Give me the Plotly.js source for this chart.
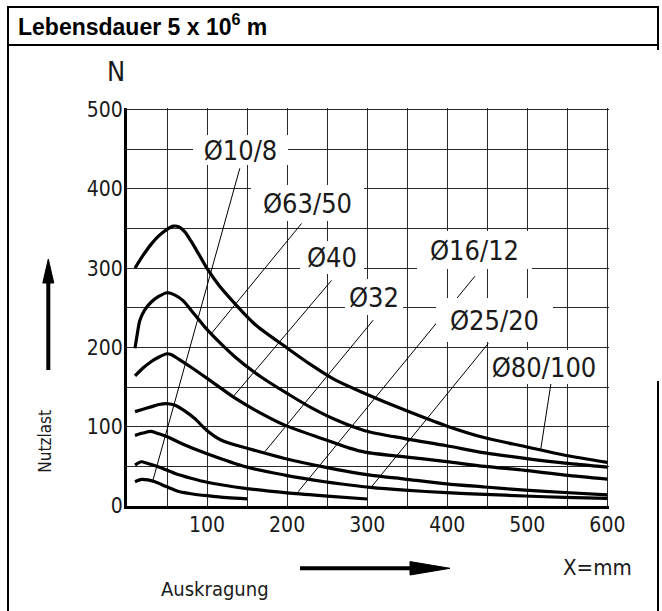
<!DOCTYPE html>
<html>
<head>
<meta charset="utf-8">
<script src="https://cdn.plot.ly/plotly-3.0.1.min.js"></script>
<style>
html,body{margin:0;padding:0;background:#fff;}
#chart{width:662px;height:611px;}
</style>
</head>
<body>
<div id="chart"></div>
<script>
// ---------- data ----------
// Ø80/100
const xA = [10,20,30,40,50,58,65,72,80,90,101,115,135,160,199,230,260,297,347,399,447,497,547,600];
const yA = [300,316,330,341,349,353,352,346,334,317,298,278,255,229,200,178,159,142,121,101,86,75,64,55];
// Ø63/50
const xB = [10,13,16,22,30,39,50,60,70,80,97,115,135,160,176,200,230,260,297,347,399,447,497,547,600];
const yB = [199,218,234,247,257,264,269,266,259,247,226,207,188,168,157,142,124,109,95,85,76,67,60,54,49];
// Ø40
const x40 = [10,20,30,40,50,55,65,80,100,135,160,197,247,278,297,347,399,447,497,547,600];
const y40 = [164,174,182,188,192,191,185,175,161,136,121,102,84,73,68,62,56,50,45,39,34];
// Ø32
const x32 = [10,20,30,40,51,60,72,85,99,118,151,197,247,278,304,347,399,447,497,547,600];
const y32 = [119,122,125,128,129,127,120,110,96,83,72.6,60,49,43,39,34,28,24,20,17,14];
// Ø25/20
const x25 = [10,20,30,40,51,70,100,150,197,247,278,304,347,399,447,497,547,600];
const y25 = [89,92,94,91,87,78,66,49,39,30.6,26.5,23.5,20,16.8,14.7,12.6,10.9,9.7];
// Ø16/12
const x16 = [10,18,25,39,60,80,100,150,200,250,300];
const y16 = [51.6,55.8,54,49.5,41,35,30,22,16.5,12.5,8.8];
// Ø10/8
const x10 = [10,18,26,35,48,60,66,80,100,125,150];
const y10 = [30.6,33.6,33,30.6,25,20,18,15.5,13,10.5,9];

const seriesX = [xA, xB, x40, x32, x25, x16, x10];
const seriesY = [yA, yB, y40, y32, y25, y16, y10];

// labels and their leader lines (data units)
const labelText = ['Ø10/8','Ø63/50','Ø40','Ø32','Ø16/12','Ø25/20','Ø80/100'];
const labelX    = [141.6, 225.9, 255.9, 308.4, 434.6, 459.6, 521.0];
const labelY    = [448.7, 381.9, 313.8, 263.4, 322.7, 234.4, 175.2];
const leadX0 = [140.9, 218.0, 255.5, 307.5, 434.6, 451.25, 530.5];
const leadY0 = [425.9, 356.3, 284.6, 234.4, 289.9, 205.1, 161.0];
const leadX1 = [32.5, 105.5, 132.5, 172.1, 213.75, 305.5, 516.75];
const leadY1 = [32.8, 217.7, 137.8, 68.4, 18.0, 24.3, 71.5];

const xTicks = [100,200,300,400,500,600];
const yTicks = [0,100,200,300,400,500];

// ---------- styling / layout ----------
const labelBoxW = [95, 113, 64, 58, 115, 117, 112];
const labelBoxH = [30, 36, 33, 36, 38, 44, 34];

const FC = '"DejaVu Sans Condensed", "Liberation Sans Narrow", sans-serif';

const W = 662, H = 611;
const mL = 127, mR = 53, mT = 108, mB = 105;
const plotW = W - mL - mR, plotH = H - mT - mB;
const px = v => (v - mL) / plotW;          // pixel x -> paper
const py = v => (H - mB - v) / plotH;      // pixel y -> paper

const traces = [];
for (let i = 0; i < seriesX.length; i++) {
  traces.push({x: seriesX[i], y: seriesY[i], mode: 'lines', type: 'scatter',
    line: {color: '#000', width: 3.2, shape: 'spline', smoothing: 0.8},
    hoverinfo: 'skip', showlegend: false});
}
for (let i = 0; i < leadX0.length; i++) {
  traces.push({x: [leadX0[i], leadX1[i]], y: [leadY0[i], leadY1[i]], mode: 'lines', type: 'scatter',
    line: {color: '#000', width: 1}, hoverinfo: 'skip', showlegend: false});
}

const annotations = labelText.map((t, i) => ({
  text: t, x: labelX[i], y: labelY[i], xref: 'x', yref: 'y',
  showarrow: false, bgcolor: '#fff', borderpad: 0, borderwidth: 0,
  width: labelBoxW[i], height: labelBoxH[i], align: 'center', valign: 'middle',
  font: {family: FC, size: 27, color: '#1a1a1a'}
}));
annotations.push(
  {text: 'N', x: px(116), y: py(71), xref: 'paper', yref: 'paper', showarrow: false,
   xanchor: 'center', yanchor: 'middle', font: {family: FC, size: 27, color: '#1a1a1a'}},
  {text: 'Nutzlast', x: px(45), y: py(441.7), xref: 'paper', yref: 'paper', showarrow: false,
   textangle: -90, xanchor: 'center', yanchor: 'middle', font: {family: FC, size: 17, color: '#1a1a1a'}},
  {text: 'Auskragung', x: px(215), y: py(589), xref: 'paper', yref: 'paper', showarrow: false,
   xanchor: 'center', yanchor: 'middle', font: {family: FC, size: 20, color: '#1a1a1a'}},
  {text: 'X=mm', x: px(597), y: py(567), xref: 'paper', yref: 'paper', showarrow: false,
   xanchor: 'center', yanchor: 'middle', font: {family: FC, size: 22, color: '#1a1a1a'}}
);

function pline(x0, y0, x1, y1, w) {
  return {type: 'line', xref: 'paper', yref: 'paper', x0: px(x0), y0: py(y0), x1: px(x1), y1: py(y1),
    line: {color: '#000', width: w}, layer: 'above'};
}
function tri(pts) {
  const d = 'M ' + pts.map(p => px(p[0]) + ',' + py(p[1])).join(' L ') + ' Z';
  return {type: 'path', xref: 'paper', yref: 'paper', path: d, fillcolor: '#000',
    line: {color: '#000', width: 1}, layer: 'above'};
}
const shapes = [
  pline(7, 7, 659, 7, 2),
  pline(7, 45, 659, 45, 2),
  pline(8, 6, 8, 611, 2),
  pline(658, 6, 658, 50, 2),
  pline(658, 381, 658, 611, 2),
  pline(48.3, 370, 48.3, 278, 4),
  tri([[48.3, 259], [42.8, 283], [53.8, 283]]),
  pline(300, 568.3, 414, 568.3, 4),
  tri([[450, 568.3], [410, 561.6], [410, 575]])
];

const gridC = '#2a2a2a';
const layout = {
  width: W, height: H,
  margin: {l: mL, r: mR, t: mT, b: mB, pad: 0},
  paper_bgcolor: '#fff', plot_bgcolor: '#fff',
  showlegend: false,
  title: {text: '<b>Lebensdauer 5 x 10<sup>6</sup> m</b>', xref: 'container', yref: 'container',
    x: 18 / W, xanchor: 'left', y: 1 - 27 / H, yanchor: 'middle',
    font: {family: '"Liberation Sans", Arial, sans-serif', size: 23, color: '#000'}},
  xaxis: {range: [0, 602], tickmode: 'array', tickvals: xTicks, ticktext: xTicks.map(String),
    showgrid: true, gridcolor: gridC, gridwidth: 1, zeroline: false,
    showline: true, linecolor: '#000', linewidth: 3, ticks: '', ticklabelstandoff: -2,
    minor: {dtick: 50, tick0: 0, showgrid: true, gridcolor: gridC, gridwidth: 1, ticks: ''},
    tickfont: {family: FC, size: 21, color: '#1a1a1a'}, fixedrange: true},
  yaxis: {range: [0, 502], tickmode: 'array', tickvals: yTicks, ticktext: yTicks.map(String),
    showgrid: true, gridcolor: gridC, gridwidth: 1, zeroline: false,
    showline: true, linecolor: '#000', linewidth: 3, ticks: '', ticklabelstandoff: -3,
    minor: {dtick: 50, tick0: 0, showgrid: true, gridcolor: gridC, gridwidth: 1, ticks: ''},
    tickfont: {family: FC, size: 21, color: '#1a1a1a'}, fixedrange: true},
  annotations: annotations,
  shapes: shapes
};

Plotly.newPlot('chart', traces, layout, {staticPlot: true, displayModeBar: false});
</script>
</body>
</html>
